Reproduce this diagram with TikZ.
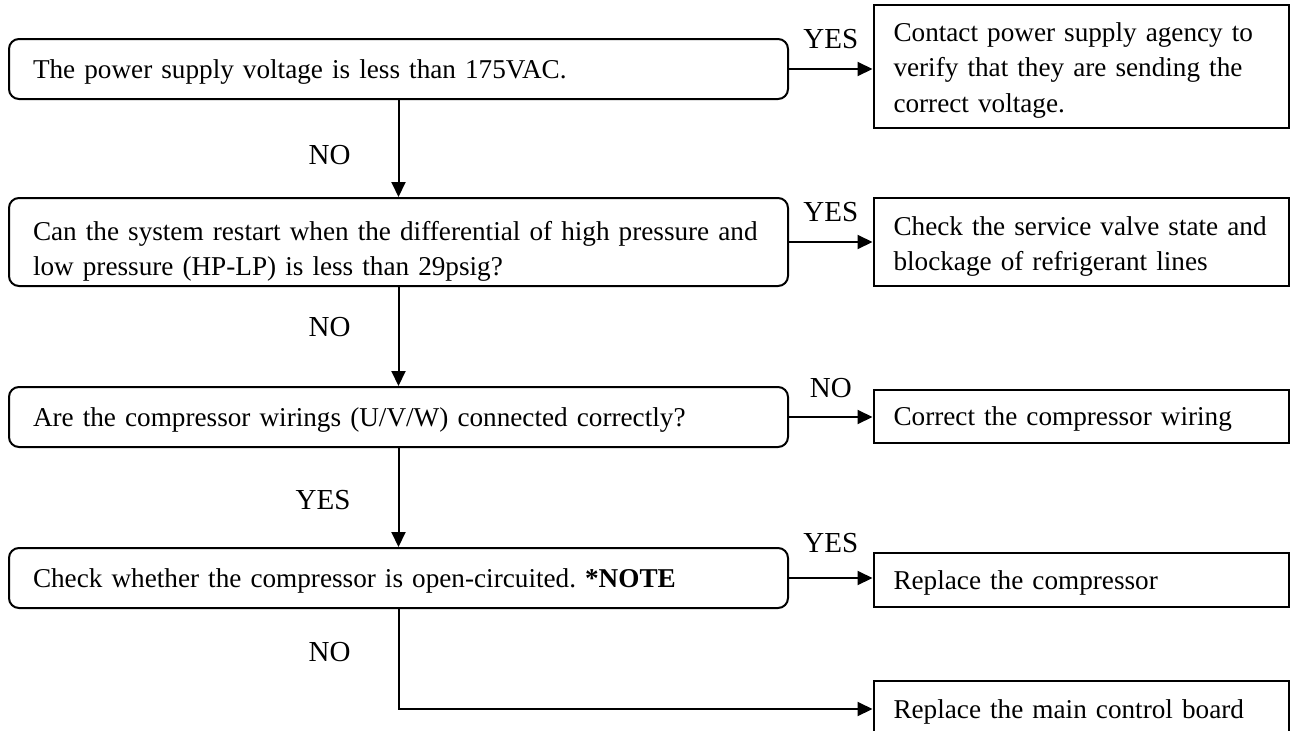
\documentclass[tikz,border=0pt]{standalone}
\usepackage{fontspec}
\setmainfont{Liberation Serif}
\usetikzlibrary{arrows.meta}
\frenchspacing
\begin{document}
\begin{tikzpicture}[x=1pt,y=-1pt,
  qbox/.style={draw, line width=2pt, rounded corners=10pt, minimum width=779pt,
    text width=731pt, inner xsep=24pt, align=left, text depth=0pt,
    font=\fontsize{27.2}{35.5}\selectfont},
  abox/.style={draw, line width=2pt, minimum width=415pt, text width=375pt,
    inner xsep=20pt, align=left, text depth=0pt, font=\fontsize{27.2}{35.5}\selectfont},
  lbl/.style={inner sep=0pt, font=\fontsize{29}{36}\selectfont},
  arr/.style={line width=2pt, -{Triangle[length=15pt,width=14pt]}}]
  % Page frame
  \useasboundingbox (0,0) rectangle (1294,731);
  % Question boxes
  \node[qbox, minimum height=60pt] (q1) at (398.5,69) {The power supply voltage is less than 175VAC.};
  \node[qbox, minimum height=88pt, text height=19pt, text depth=23pt] (q2) at (398.5,242) {Can the system restart when the differential of high pressure and\\low pressure (HP-LP) is less than 29psig?};
  \node[qbox, minimum height=60pt] (q3) at (398.5,417) {Are the compressor wirings (U/V/W) connected correctly?};
  \node[qbox, minimum height=60pt] (q4) at (398.5,578) {Check whether the compressor is open-circuited. \textbf{*NOTE}};
  % Action boxes
  \node[abox, minimum height=123pt, text height=19pt, text depth=70pt] (a1) at (1081,66.5) {Contact power supply agency to\\verify that they are sending the\\correct voltage.};
  \node[abox, minimum height=88pt, text height=19pt, text depth=33pt] (a2) at (1081,242) {Check the service valve state and\\blockage of refrigerant lines};
  \node[abox, minimum height=53pt] (a3) at (1081,416.5) {Correct the compressor wiring};
  \node[abox, minimum height=54pt] (a4) at (1081,580) {Replace the compressor};
  \node[abox, minimum height=56pt] (a5) at (1081,709) {Replace the main control board};
  % Main flow
  \draw[arr] (q1) -- node[lbl, left=47pt, pos=0.57] {NO} (q2);
  \draw[arr] (q2) -- node[lbl, left=47pt, pos=0.4] {NO} (q3);
  \draw[arr] (q3) -- node[lbl, left=47pt, pos=0.53] {YES} (q4);
  \draw[arr] (q4) |- node[lbl, left=47pt, pos=0.215] {NO} (a5);
  % Side branches
  \draw[arr] (q1.east) -- node[lbl, above=19pt] {YES} (q1.east -| a1.west);
  \draw[arr] (q2.east) -- node[lbl, above=19pt] {YES} (q2.east -| a2.west);
  \draw[arr] (q3.east) -- node[lbl, above=18pt] {NO} (q3.east -| a3.west);
  \draw[arr] (q4.east) -- node[lbl, above=24pt] {YES} (q4.east -| a4.west);
\end{tikzpicture}
\end{document}
